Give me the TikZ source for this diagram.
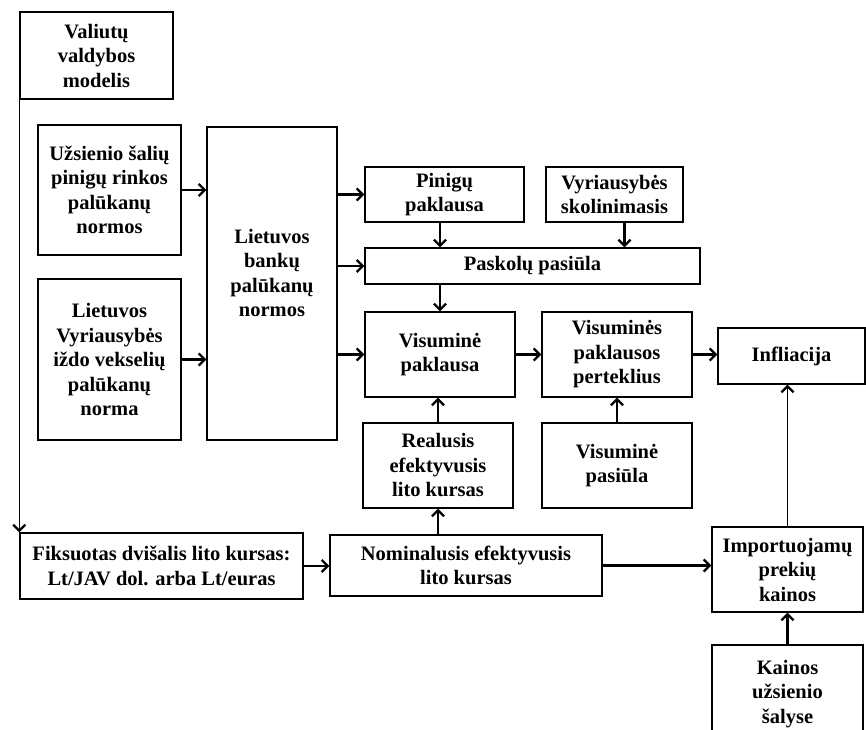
\documentclass[tikz,border=0pt]{standalone}
\usepackage{fontspec}
\setmainfont{Liberation Serif}
\usetikzlibrary{arrows.meta}
\newcommand\dgfont{\fontsize{20.5}{24.5}\selectfont\bfseries}
\tikzset{
  box/.style={draw, line width=1.4pt, inner sep=0pt, align=center, font=\dgfont},
  txt/.style={inner sep=0pt, align=center, font=\dgfont},
  conn/.style={line width=2.3pt, -{Straight Barb[length=6pt,width=12pt]}},
  thinconn/.style={line width=1.2pt, -{Straight Barb[length=6pt,width=12pt,line width=2.3pt]}},
}
\begin{document}
\begin{tikzpicture}[x=1pt,y=-1pt]
\useasboundingbox (0,0) rectangle (866,729);
\fill[white] (0,0) rectangle (866,729);

% boxes
\node[box, minimum width=153, minimum height=87] (val) at (96.5,55.5) {Valiutų\\valdybos\\modelis};
\node[box, minimum width=143, minimum height=130] (uzs) at (109.5,190) {Užsienio šalių\\pinigų rinkos\\palūkanų\\normos};
\node[box, minimum width=143, minimum height=161] (lvyr) at (109.5,359.5) {Lietuvos\\Vyriausybės\\iždo vekselių\\palūkanų\\norma};
\node[box, minimum width=130, minimum height=313] (big) at (272,283.5) {};
\node[txt] (bigtxt) at (272,273) {Lietuvos\\bankų\\palūkanų\\normos};
\node[box, minimum width=159, minimum height=55] (pin) at (444.5,194.5) {Pinigų\\paklausa};
\node[box, minimum width=137, minimum height=55] (vyr) at (614.5,194.5) {Vyriausybės\\skolinimasis};
\node[box, minimum width=335, minimum height=36] (pask) at (532.5,266) {Paskolų pasiūla};
\node[box, minimum width=150, minimum height=85] (vp) at (440,354.5) {Visuminė\\paklausa};
\node[box, minimum width=150, minimum height=85] (vpp) at (617,354.5) {Visuminės\\paklausos\\perteklius};
\node[box, minimum width=147, minimum height=56] (infl) at (791.5,356) {Infliacija};
\node[box, minimum width=150, minimum height=85] (real) at (438,465.5) {Realusis\\efektyvusis\\lito kursas};
\node[box, minimum width=150, minimum height=85] (vpas) at (617,465.5) {Visuminė\\pasiūla};
\node[box, minimum width=283, minimum height=66] (fiks) at (161.5,566) {Fiksuotas dvišalis lito kursas:\\Lt/JAV dol. arba Lt/euras};
\node[box, minimum width=272, minimum height=61] (nom) at (466,565.5) {Nominalusis efektyvusis\\lito kursas};
\node[box, minimum width=151, minimum height=85] (imp) at (787.5,569.5) {Importuojamų\\prekių\\kainos};
\node[box, minimum width=151, minimum height=98] (kai) at (787.5,694) {Kainos\\užsienio\\šalyse};

% connectors
\draw[thinconn] (val.south west) -- (fiks.north west);
\draw[conn] (uzs.east) -- (uzs.east -| big.west);
\draw[conn] (lvyr.east) -- (lvyr.east -| big.west);
\draw[conn] (big.east |- pin.west) -- (pin.west);
\draw[conn] (big.east |- pask.west) -- (pask.west);
\draw[conn] (big.east |- vp.west) -- (vp.west);
\draw[conn] (pin.south -| vp.north) -- (pask.north -| vp.north);
\draw[conn] ([xshift=10pt]vyr.south) -- ([xshift=10pt]vyr.south |- pask.north);
\draw[conn] (pask.south -| vp.north) -- (vp.north);
\draw[conn] (vp.east) -- (vpp.west);
\draw[conn] (vpp.east) -- (vpp.east -| infl.west);
\draw[conn] (real.north) -- (real.north |- vp.south);
\draw[conn] (vpas.north) -- (vpp.south);
\draw[conn] (fiks.east) -- (fiks.east -| nom.west);
\draw[conn] (nom.north -| real.south) -- (real.south);
\draw[conn] (nom.east) -- (nom.east -| imp.west);
\draw[thinconn] (imp.north) -- (imp.north |- infl.south);
\draw[conn] (kai.north) -- (imp.south);
\end{tikzpicture}
\end{document}
